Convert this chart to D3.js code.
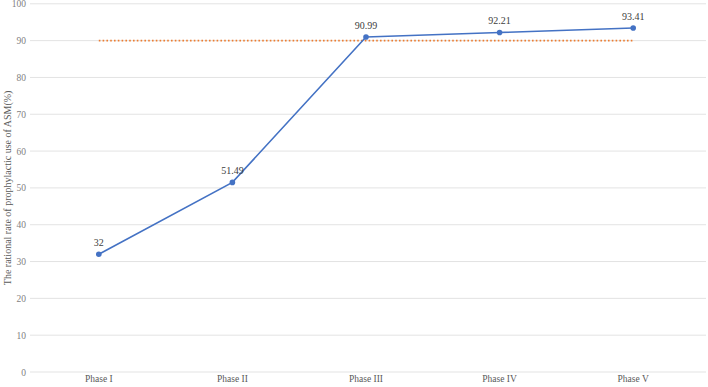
<!DOCTYPE html>
<html><head><meta charset="utf-8">
<script src="https://cdn.jsdelivr.net/npm/d3@7"></script>
<style>body{margin:0;background:#fff}svg{display:block}</style>
</head><body><div id="chart"></div>
<script>
const categories = ["Phase I","Phase II","Phase III","Phase IV","Phase V"];
const values = [32, 51.49, 90.99, 92.21, 93.41];
const target = [90, 90, 90, 90, 90];
const yTicks = [0,10,20,30,40,50,60,70,80,90,100];
const yTitle = "The rational rate of prophylactic use of ASM(%)";
const FONT = "'Liberation Serif', 'DejaVu Serif', serif";

const W = 708, H = 387;
const svg = d3.select("#chart").append("svg").attr("width", W).attr("height", H)
  .attr("font-family", FONT);
const x = d3.scaleBand().domain(categories).range([32, 700]);
const y = d3.scaleLinear().domain([0, 100]).range([372, 3.8]);
const cx = d => x(d) + x.bandwidth()/2;

const grid = svg.append("g");
grid.selectAll("line").data(yTicks).join("line")
  .attr("x1", 30).attr("x2", 706)
  .attr("y1", d => y(d)).attr("y2", d => y(d))
  .attr("stroke", "#e3e3e3").attr("stroke-width", 1);

const yAxis = d3.axisLeft(y).tickValues(yTicks).tickSize(0).tickPadding(0);
const ya = svg.append("g").attr("transform", "translate(26,0)").call(yAxis)
  .attr("font-family", FONT).attr("font-size", 9.5);
ya.select(".domain").remove();
ya.selectAll("text").attr("fill", "#7f7f7f");

const xAxis = d3.axisBottom(x).tickSize(0).tickPadding(0);
const xa = svg.append("g").attr("transform", "translate(0,375)").call(xAxis)
  .attr("font-family", FONT).attr("font-size", 9.5);
xa.select(".domain").remove();
xa.selectAll("text").attr("fill", "#595959");

svg.append("text").attr("transform", `translate(11,${y(50)}) rotate(-90)`)
  .attr("text-anchor", "middle").attr("fill", "#595959").attr("font-size", 10)
  .text(yTitle);

const line = d3.line().x((d,i) => cx(categories[i])).y(d => y(d));
svg.append("path").datum(target).attr("d", line)
  .attr("fill", "none").attr("stroke", "#ED7D31").attr("stroke-width", 1.6)
  .attr("stroke-dasharray", "1.6,2.2");

svg.append("path").datum(values).attr("d", line)
  .attr("fill", "none").attr("stroke", "#4472C4").attr("stroke-width", 1.6);

svg.selectAll("circle.pt").data(values).join("circle").attr("class","pt")
  .attr("cx", (d,i) => cx(categories[i])).attr("cy", d => y(d)).attr("r", 2.8)
  .attr("fill", "#4472C4");

svg.selectAll("text.lbl").data(values).join("text").attr("class","lbl")
  .attr("x", (d,i) => cx(categories[i])).attr("y", d => y(d) - 8)
  .attr("text-anchor", "middle").attr("fill", "#404040").attr("font-size", 10)
  .text(d => d);
</script></body></html>
